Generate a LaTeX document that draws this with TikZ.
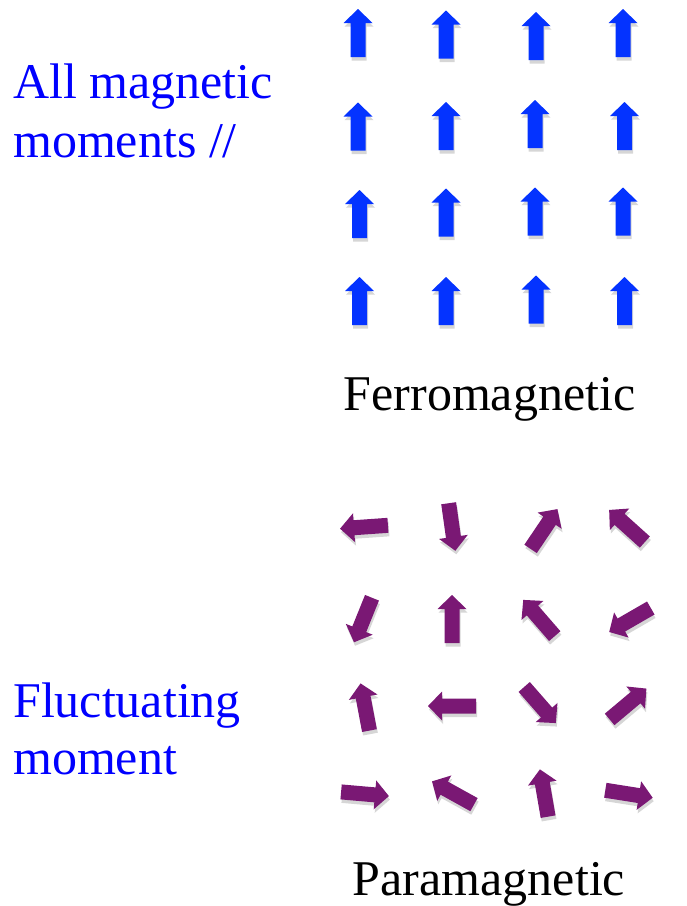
\documentclass[tikz,border=0pt]{standalone}
\usepackage{fontspec}
\setmainfont{Liberation Serif}
\definecolor{arrblue}{RGB}{4,51,255}
\definecolor{arrpurple}{RGB}{122,24,116}
\definecolor{txtblue}{RGB}{0,0,255}
\newcommand{\arrpath}{(-24,-7.5) -- (10,-7.5) -- (10,-14.5) -- (24,0) -- (10,14.5) -- (10,7.5) -- (-24,7.5) -- cycle}
% #1 x, #2 y (pixels from top), #3 angle, #4 colour
\newcommand{\marr}[4]{%
  \fill[black,opacity=.16,shift={(#1+1,-#2-3.5)},rotate=#3] \arrpath;
  \fill[#4,shift={(#1,-#2)},rotate=#3] \arrpath;}
\tikzset{
  lbl/.style={inner sep=0pt,anchor=base west,font=\fontsize{50}{59}\selectfont},
}
\begin{document}
\begin{tikzpicture}[x=1pt,y=1pt]
\useasboundingbox (0,0) rectangle (687,-906);
% left labels
\node[lbl,txtblue] (all1) at (13,-98) {All magnetic};
\node[lbl,txtblue] (all2) at (13,-157) {moments //};
\node[lbl,txtblue] (fl1) at (13,-717) {Fluctuating};
\node[lbl,txtblue] (fl2) at (13,-774) {moment};
% captions
\node[lbl,anchor=base] (ferro) at (489.5,-410) {Ferromagnetic};
\node[lbl,anchor=base] (para) at (489,-895) {Paramagnetic};
% ferromagnetic arrows
\marr{358}{33}{90}{arrblue}
\marr{446}{34.5}{90}{arrblue}
\marr{536}{36}{90}{arrblue}
\marr{623}{33}{90}{arrblue}
\marr{358}{126.5}{90}{arrblue}
\marr{446}{126}{90}{arrblue}
\marr{535}{124}{90}{arrblue}
\marr{624.5}{126}{90}{arrblue}
\marr{359.5}{214}{90}{arrblue}
\marr{446}{212.5}{90}{arrblue}
\marr{535}{211.5}{90}{arrblue}
\marr{623}{211.5}{90}{arrblue}
\marr{359.5}{301}{90}{arrblue}
\marr{446}{301}{90}{arrblue}
\marr{536}{299.5}{90}{arrblue}
\marr{624.5}{301}{90}{arrblue}
% paramagnetic arrows
\marr{364}{527}{184}{arrpurple}
\marr{452}{527}{-82}{arrpurple}
\marr{544}{529}{56}{arrpurple}
\marr{627}{526}{138}{arrpurple}
\marr{363}{620}{248}{arrpurple}
\marr{452}{619}{90}{arrpurple}
\marr{539}{618}{131}{arrpurple}
\marr{630}{620}{210}{arrpurple}
\marr{365}{707}{100.7}{arrpurple}
\marr{452}{706}{180}{arrpurple}
\marr{540}{705}{-48.8}{arrpurple}
\marr{628}{704}{40}{arrpurple}
\marr{365}{794}{-5}{arrpurple}
\marr{453}{793}{151}{arrpurple}
\marr{544}{793}{99.8}{arrpurple}
\marr{629}{794}{-9}{arrpurple}
\end{tikzpicture}
\end{document}
